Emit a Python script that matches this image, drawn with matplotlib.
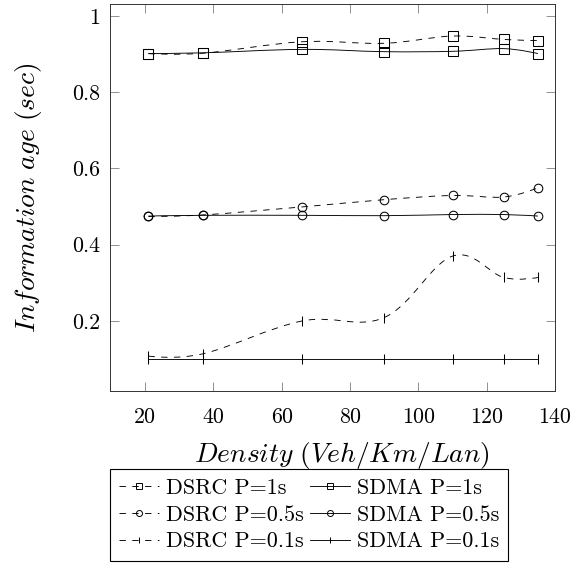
import numpy as np
import matplotlib
matplotlib.use('Agg')
import matplotlib.pyplot as plt
from matplotlib.path import Path
from matplotlib.patches import PathPatch
from matplotlib.lines import Line2D
from matplotlib.ticker import FixedLocator, FuncFormatter

plt.rcParams['mathtext.fontset'] = 'cm'
plt.rcParams['font.family'] = 'cmr10'
plt.rcParams['axes.formatter.use_mathtext'] = True
plt.rcParams['lines.scale_dashes'] = False

# ---- data ----
density = [21, 37, 66, 90, 110, 125, 135]
dsrc_1 = [0.901, 0.902, 0.932, 0.928, 0.947, 0.938, 0.935]
sdma_1 = [0.901, 0.903, 0.912, 0.906, 0.907, 0.914, 0.901]
dsrc_05 = [0.474, 0.478, 0.499, 0.518, 0.529, 0.525, 0.549]
sdma_05 = [0.475, 0.477, 0.477, 0.476, 0.479, 0.479, 0.475]
dsrc_01 = [0.108, 0.114, 0.200, 0.209, 0.370, 0.314, 0.314]
sdma_01 = [0.099, 0.099, 0.099, 0.099, 0.099, 0.099, 0.099]

x_ticks = [20, 40, 60, 80, 100, 120, 140]
y_ticks = [0.2, 0.4, 0.6, 0.8, 1.0]

labels = ['DSRC P=1s', 'DSRC P=0.5s', 'DSRC P=0.1s',
          'SDMA P=1s', 'SDMA P=0.5s', 'SDMA P=0.1s']
values = [dsrc_1, dsrc_05, dsrc_01, sdma_1, sdma_05, sdma_01]
markers = ['s', 'o', '|', 's', 'o', '|']
dashed = [True, True, True, False, False, False]

DASH = (0, (4.6, 4.6))
FS = 15.8
LFS = 15.9
AFS = 19.8


def smooth_path(xs, ys, k=0.18):
    pts = np.column_stack([xs, ys]).astype(float)
    n = len(pts)
    verts = [pts[0]]
    codes = [Path.MOVETO]
    for i in range(n - 1):
        p0, p1 = pts[i], pts[i + 1]
        c1 = p0 if i == 0 else p0 + k * (pts[i + 1] - pts[i - 1])
        c2 = p1 if i == n - 2 else p1 - k * (pts[i + 2] - pts[i])
        verts += [c1, c2, p1]
        codes += [Path.CURVE4] * 3
    return Path(np.array(verts), codes)


fig = plt.figure(figsize=(5.76, 5.64), dpi=100)
ax = fig.add_axes([110 / 576, 1 - 391 / 564, (555 - 110) / 576, (391 - 4) / 564])

lw = 0.65
msizes = {'s': 7.0, 'o': 6.2, '|': 6.5}
handles = []
for label, ys, mk, dsh in zip(labels, values, markers, dashed):
    style = DASH if dsh else '-'
    patch = PathPatch(smooth_path(density, ys), fill=False, edgecolor='black',
                      linewidth=lw, linestyle=style, transform=ax.transData)
    ax.add_patch(patch)
    ax.plot(density, ys, linestyle='none', marker=mk, markersize=msizes[mk],
            markerfacecolor='none', markeredgecolor='black', markeredgewidth=0.75)
    handles.append(Line2D([], [], color='black', linewidth=lw,
                          linestyle=DASH if dsh else '-',
                          marker=mk, markersize=msizes[mk] * 0.7,
                          markerfacecolor='none', markeredgewidth=0.7,
                          label=label))

ax.set_xlim(9.75, 140)
ax.set_ylim(0.0164, 1.031)
ax.xaxis.set_major_locator(FixedLocator(x_ticks))
ax.yaxis.set_major_locator(FixedLocator(y_ticks))
fmt = FuncFormatter(lambda v, p: '%g' % round(v, 3))
ax.xaxis.set_major_formatter(fmt)
ax.yaxis.set_major_formatter(fmt)
ax.tick_params(direction='in', top=True, right=True, length=6.8, width=0.6,
               color='#808080', labelsize=FS)
ax.tick_params(axis='x', pad=12)
ax.tick_params(axis='y', pad=7)
for s in ax.spines.values():
    s.set_linewidth(0.7)
    s.set_color('#333333')

ax.set_xlabel(r'$Density\ (Veh/Km/Lan)$', fontsize=AFS, labelpad=9)
ax.xaxis.label.set_x(0.522)
ax.set_ylabel(r'$Information\ age\ (sec)$', fontsize=AFS, labelpad=20)

leg = fig.legend(handles=handles, ncol=2, loc='upper left',
                 bbox_to_anchor=(110 / 576, 1 - 469 / 564),
                 prop={'family': 'cmr10', 'size': LFS},
                 fancybox=False, edgecolor='black', framealpha=1,
                 handlelength=1.8, handletextpad=0.3, columnspacing=0.3,
                 labelspacing=0.33, borderpad=0.42, borderaxespad=0)
leg.get_frame().set_linewidth(0.8)

fig.savefig('out.png', dpi=100)
